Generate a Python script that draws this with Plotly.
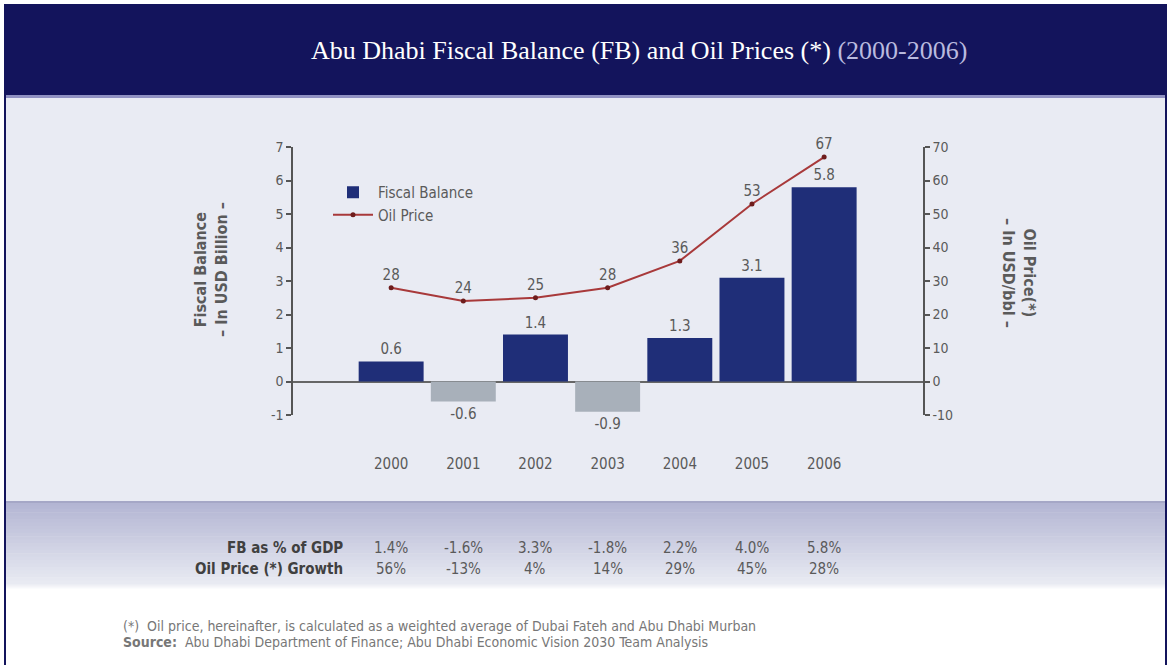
import plotly.graph_objects as go

# ---------------- data ----------------
years = [2000, 2001, 2002, 2003, 2004, 2005, 2006]
fiscal_balance = [0.6, -0.6, 1.4, -0.9, 1.3, 3.1, 5.8]
oil_price = [28, 24, 25, 28, 36, 53, 67]
fb_pct_gdp = ["1.4%", "-1.6%", "3.3%", "-1.8%", "2.2%", "4.0%", "5.8%"]
oil_growth = ["56%", "-13%", "4%", "14%", "29%", "45%", "28%"]
left_ticks = [-1, 0, 1, 2, 3, 4, 5, 6, 7]
right_ticks = [-10, 0, 10, 20, 30, 40, 50, 60, 70]

title_main = "Abu Dhabi Fiscal Balance (FB) and Oil Prices (*) "
title_years = "(2000-2006)"
row_labels = ["FB as % of GDP", "Oil Price (*) Growth"]
footnote = "(*)  Oil price, hereinafter, is calculated as a weighted average of Dubai Fateh and Abu Dhabi Murban"
source = "<b>Source:</b>  Abu Dhabi Department of Finance; Abu Dhabi Economic Vision 2030 Team Analysis"

# ---------------- layout geometry ----------------
W, H = 1171, 665
PL, PR, PT, PB = 293, 923, 147, 415  # plot area in pixels

def xp(px):
    return (px - PL) / (PR - PL)

def yp(py):
    return (PB - py) / (PB - PT)

FONT = "Liberation Sans Narrow, DejaVu Sans Condensed, Arial Narrow, sans-serif"
GRAY = "#5a5a5a"
NAVY = "#13145c"

bar_colors = ["#1f2e78" if v >= 0 else "#a8b0ba" for v in fiscal_balance]

fig = go.Figure()
fig.add_trace(go.Bar(
    x=years, y=fiscal_balance, name="Fiscal Balance",
    marker=dict(color=bar_colors, line=dict(width=0)),
    width=0.9,
    text=[f"{v:.1f}" for v in fiscal_balance], textposition="outside",
    textfont=dict(family=FONT, size=15, color=GRAY),
    cliponaxis=False, yaxis="y",
))
fig.add_trace(go.Scatter(
    x=years, y=oil_price, name="Oil Price", yaxis="y2",
    mode="lines+markers+text",
    line=dict(color="#a8393a", width=2),
    marker=dict(color="#6e1c1c", size=5),
    text=[str(v) for v in oil_price], textposition="top center",
    textfont=dict(family=FONT, size=15, color=GRAY),
    cliponaxis=False,
))

# ---------------- background shapes ----------------
shapes = []
def rect(x0, y0, x1, y1, color, layer="below"):
    shapes.append(dict(type="rect", xref="paper", yref="paper",
                       x0=xp(x0), x1=xp(x1), y0=yp(y0), y1=yp(y1),
                       fillcolor=color, line=dict(width=0), layer=layer))

rect(5, 4, 1166, 95, NAVY)
rect(5, 95, 1166, 98, "#9091c2")
rect(5, 98, 1166, 502, "#e9ebf3")

def lerp(c1, c2, t):
    return "#" + "".join(f"{int(round(a + (b - a) * t)):02x}" for a, b in zip(c1, c2))

top_c = (0xb3, 0xb5, 0xd3)
mid_c = (0xe8, 0xea, 0xf2)
white_c = (0xff, 0xff, 0xff)
n = 24
y0b, y1b = 502, 584
for i in range(n):
    a = y0b + (y1b - y0b) * i / n
    b = y0b + (y1b - y0b) * (i + 1) / n + 0.6
    rect(5, a, 1166, b, lerp(top_c, mid_c, i / (n - 1)))
for i in range(6):
    a = 584 + i
    rect(5, a, 1166, a + 1.6, lerp(mid_c, white_c, (i + 1) / 6))
rect(5, 501, 1166, 503, "#a5a7c6")
# side frame lines
rect(4, 4, 6, 665, NAVY)
rect(1165, 4, 1167, 665, NAVY)

# ---------------- annotations ----------------
ann = []
ann.append(dict(xref="paper", yref="paper", x=xp(639), y=yp(50),
                text=title_main + f"<span style='color:#b9badf'>{title_years}</span>",
                showarrow=False, xanchor="center", yanchor="middle",
                font=dict(family="Liberation Serif, DejaVu Serif, serif", size=26, color="white")))
ann.append(dict(xref="paper", yref="paper", x=xp(211), y=yp(270),
                text="<b>Fiscal Balance<br>– In USD Billion –</b>", textangle=-90,
                showarrow=False, xanchor="center", yanchor="middle",
                font=dict(family=FONT, size=16, color=GRAY)))
ann.append(dict(xref="paper", yref="paper", x=xp(1019), y=yp(273),
                text="<b>Oil Price(*)<br>– In USD/bbl –</b>", textangle=90,
                showarrow=False, xanchor="center", yanchor="middle",
                font=dict(family=FONT, size=16, color=GRAY)))
row_y = [548, 569]
for lab, ry in zip(row_labels, row_y):
    ann.append(dict(xref="paper", yref="paper", x=xp(345), y=yp(ry),
                    text=f"<b>{lab}</b>", showarrow=False, xanchor="right", yanchor="middle",
                    font=dict(family=FONT, size=15, color="#404040")))
for vals, ry in zip([fb_pct_gdp, oil_growth], row_y):
    for yr, v in zip(years, vals):
        ann.append(dict(xref="x", yref="paper", x=yr, y=yp(ry), text=v,
                        showarrow=False, xanchor="center", yanchor="middle",
                        font=dict(family=FONT, size=15, color=GRAY)))
ann.append(dict(xref="paper", yref="paper", x=xp(121), y=yp(626), text=footnote,
                showarrow=False, xanchor="left", yanchor="middle",
                font=dict(family=FONT, size=14, color="#777777")))
ann.append(dict(xref="paper", yref="paper", x=xp(121), y=yp(642), text=source,
                showarrow=False, xanchor="left", yanchor="middle",
                font=dict(family=FONT, size=14, color="#777777")))

fig.update_layout(
    width=W, height=H,
    margin=dict(l=PL, r=W - PR, t=PT, b=H - PB, pad=0),
    paper_bgcolor="white", plot_bgcolor="rgba(0,0,0,0)",
    shapes=shapes, annotations=ann,
    showlegend=True,
    legend=dict(x=xp(328), y=yp(176), xanchor="left", yanchor="top",
                bgcolor="rgba(0,0,0,0)", font=dict(family=FONT, size=15, color=GRAY),
                itemwidth=40, tracegroupgap=0),
    bargap=0.1,
    xaxis=dict(range=[1998.64, 2007.37], tickvals=years, ticktext=[str(y) for y in years],
               showline=False, showgrid=False, zeroline=False, ticks="",
               ticklabelstandoff=38,
               tickfont=dict(family=FONT, size=15, color=GRAY)),
    yaxis=dict(range=[-1, 7], tickvals=left_ticks, ticktext=[str(t) for t in left_ticks],
               showgrid=False,
               zeroline=True, zerolinecolor="#666666", zerolinewidth=2,
               showline=True, linecolor="#555555", linewidth=1.5,
               ticks="outside", ticklen=5, tickcolor="#555555", tickwidth=1.5,
               tickfont=dict(family=FONT, size=14, color=GRAY)),
    yaxis2=dict(range=[-10, 70], tickvals=right_ticks, ticktext=[str(t) for t in right_ticks],
                overlaying="y", side="right",
                showgrid=False, zeroline=False,
                showline=True, linecolor="#555555", linewidth=1.5,
                ticks="outside", ticklen=5, tickcolor="#555555", tickwidth=1.5,
                tickfont=dict(family=FONT, size=14, color=GRAY)),
)

fig.write_html("out.html",
               config={"displayModeBar": False},
               post_script="document.body.style.margin='0';document.body.style.padding='0';")
